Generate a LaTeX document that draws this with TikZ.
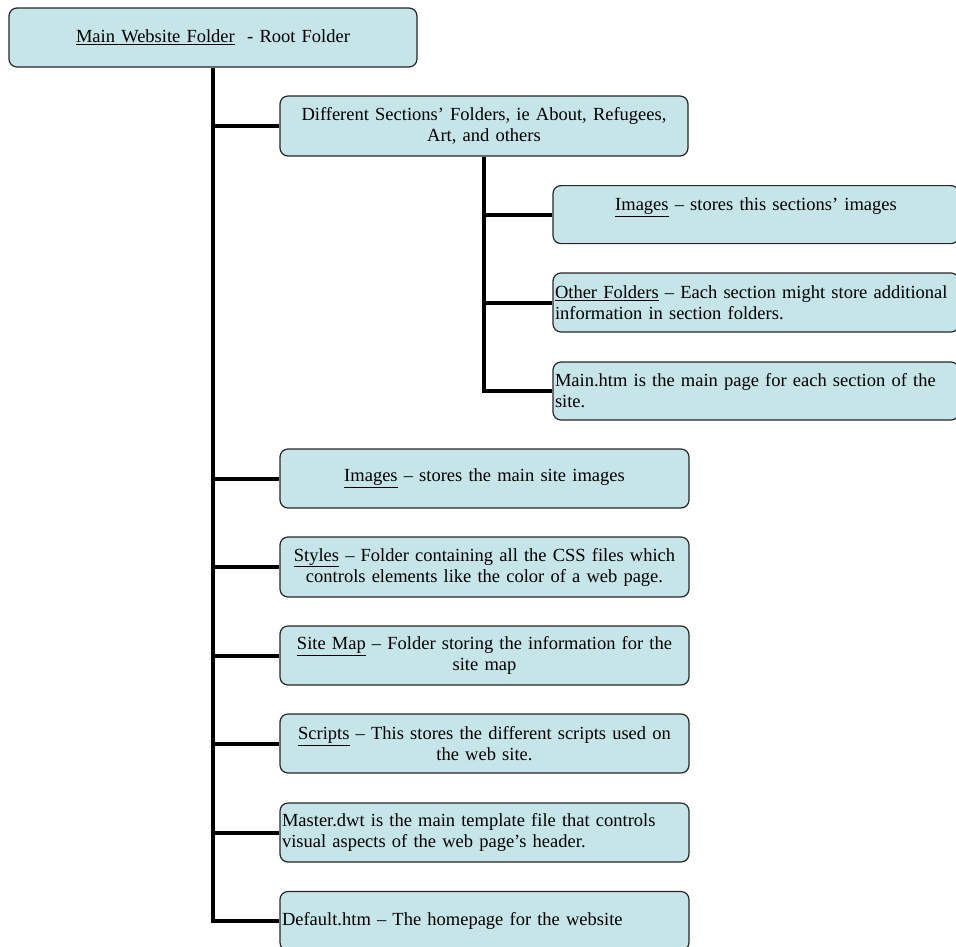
\documentclass[tikz,border=0pt]{standalone}
\usepackage{fontspec}
\setmainfont{Liberation Serif}
\usetikzlibrary{calc}
\definecolor{boxfill}{RGB}{198,229,232}
\tikzset{folder/.style={draw=black!85,line width=1.2pt,fill=boxfill,rounded corners=8pt,
    inner xsep=2pt,inner ysep=3pt,font=\fontsize{18.5}{21}\selectfont},
  branch/.style={line width=4pt}}

\begin{document}
\begin{tikzpicture}[x=1pt,y=-1pt]
\clip (0,0) rectangle (956,946);
% root and main section
\node[folder,text width=404pt,minimum height=59pt,align=center](root)at(213,37.5){\underline{Main Website Folder}\ \ - Root Folder};
\node[folder,text width=404pt,minimum height=60pt,align=center](sect)at(484,126){Different Sections' Folders, ie About, Refugees,\\Art, and others};
% section sub folders
\node[folder,text width=402pt,minimum height=58pt,align=center,anchor=north](simg)at(756,185){\underline{Images} -- stores this sections' images\\\mbox{}};
\node[folder,text width=402pt,minimum height=59pt,align=left](sothr)at(756,302.5){\underline{Other Folders} -- Each section might store additional\\information in section folders.};
\node[folder,text width=402pt,minimum height=58pt,align=left](smain)at(756,391){Main.htm is the main page for each section of the\\site.};
% main folders
\node[folder,text width=405pt,minimum height=59pt,align=center](img)at(484.5,478.5){\underline{Images} -- stores the main site images};
\node[folder,text width=405pt,minimum height=60pt,align=center](styl)at(484.5,567){\underline{Styles} -- Folder containing all the CSS files which\\controls elements like the color of a web page.};
\node[folder,text width=405pt,minimum height=59pt,align=center](smap)at(484.5,655.5){\underline{Site Map} -- Folder storing the information for the\\site map};
\node[folder,text width=405pt,minimum height=59pt,align=center](scrp)at(484.5,743.5){\underline{Scripts} -- This stores the different scripts used on\\the web site.};
\node[folder,text width=405pt,minimum height=59pt,align=left](mstr)at(484.5,832.5){Master.dwt is the main template file that controls\\visual aspects of the web page's header.};
\node[folder,text width=405pt,minimum height=59pt,align=left](dflt)at(484.5,921){Default.htm -- The homepage for the website};
% connectors
\draw[branch] (root.south) -- (root.south |- dflt.west) -- (dflt.west);
\foreach \n in {sect,img,styl,smap,scrp,mstr}
  \draw[branch] (root.south |- \n.west) -- (\n.west);
\draw[branch] (sect.south) -- (sect.south |- smain.west) -- (smain.west);
\foreach \n in {simg,sothr}
  \draw[branch] (sect.south |- \n.west) -- (\n.west);
\end{tikzpicture}
\end{document}
